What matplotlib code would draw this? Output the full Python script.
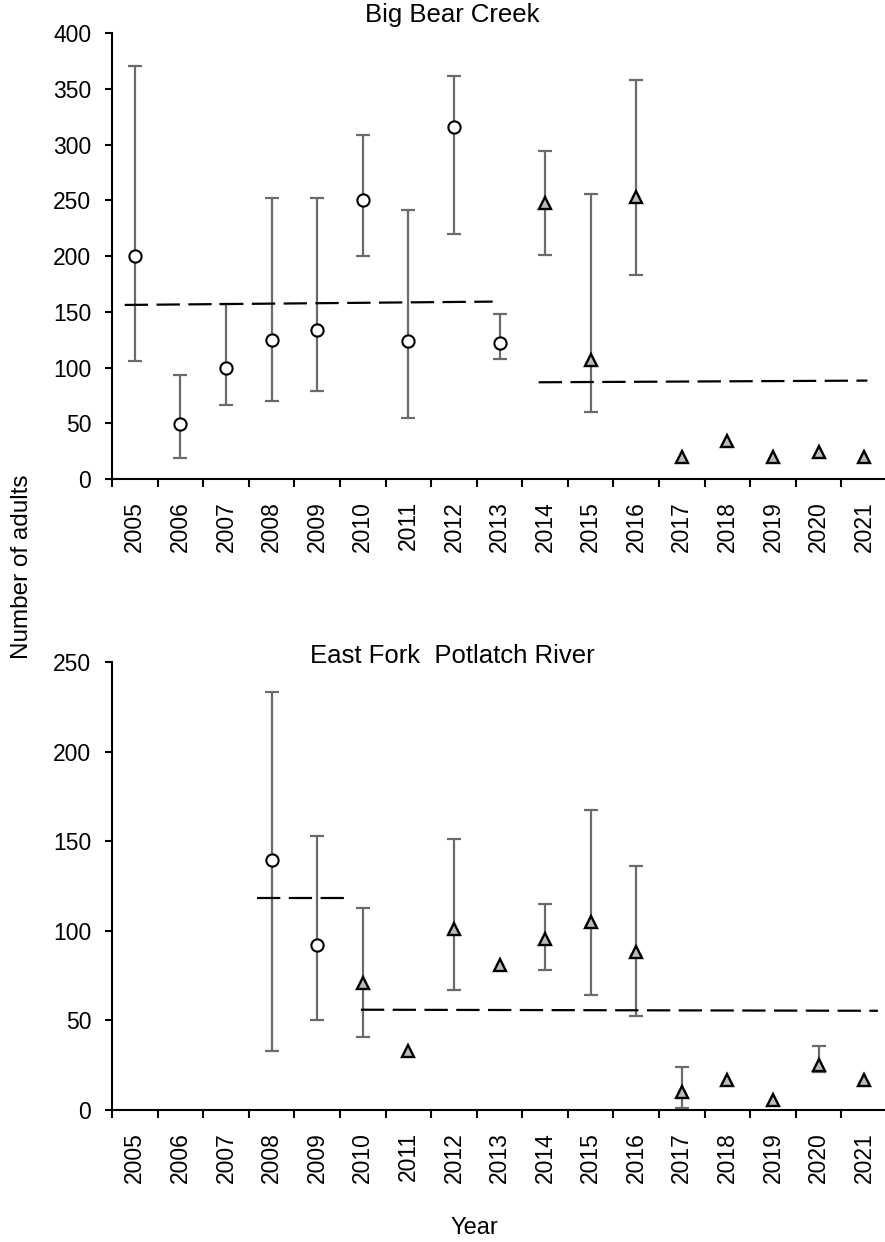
import numpy as np
import matplotlib
matplotlib.use("Agg")
import matplotlib.pyplot as plt

plt.rcParams['font.family'] = ['Liberation Sans', 'DejaVu Sans']

nan = np.nan
years = list(range(2005, 2022))
year_labels = [str(y) for y in years]

# Big Bear Creek
bb_mean = [200, 49, 100, 125, 134, 250, 124, 316, 122, 248, 107, 253, 20, 34, 20, 24, 20]
bb_upper = [371, 93, 157, 252, 252, 309, 241, 362, 148, 294, 256, 358, nan, nan, nan, nan, nan]
bb_lower = [106, 19, 66, 70, 79, 200, 55, 220, 108, 201, 60, 183, nan, nan, nan, nan, nan]
bb_split_year = 2014  # circles before, triangles from this year
bb_line1_x = [2004.78, 2012.85]
bb_line1_y = [156.2, 159.2]
bb_line2_x = [2013.86, 2021.07]
bb_line2_y = [86.8, 88.3]

# East Fork Potlatch River
ef_mean = [nan, nan, nan, 139.5, 92, 71, 33, 101, 81, 95.5, 105, 88.5, 10, 17, 5.6, 25, 17]
ef_upper = [nan, nan, nan, 233.5, 153, 113, nan, 151.5, nan, 115, 167.5, 136.5, 24, nan, nan, 35.5, nan]
ef_lower = [nan, nan, nan, 33, 50, 41, nan, 67, nan, 78, 64, 52.5, 1, nan, nan, 21, nan]
ef_split_year = 2010
ef_line1_x = [2007.68, 2009.67]
ef_line1_y = [118.5, 118.5]
ef_line2_x = [2009.96, 2021.3]
ef_line2_y = [56.0, 55.4]

FIG_W, FIG_H = 885, 1242
fig = plt.figure(figsize=(FIG_W / 100, FIG_H / 100), dpi=100)

def px_axes(left, right, top, bottom):
    return fig.add_axes([left / FIG_W, 1 - bottom / FIG_H,
                         (right - left) / FIG_W, (bottom - top) / FIG_H])

ax_top = px_axes(112, 887, 33.3, 479)
ax_bot = px_axes(112, 887, 662.3, 1110)

ERR_COLOR = '#6b6b6b'
TRI_FILL = '#bababa'

def draw_panel(ax, mean, upper, lower, split_year, l1x, l1y, l2x, l2y, ymax, title, title_y):
    x0 = years[0]
    xi = np.array(years) - x0
    m = np.array(mean, dtype=float)
    up = np.array(upper, dtype=float)
    lo = np.array(lower, dtype=float)
    has_err = ~np.isnan(up)
    ax.errorbar(xi[has_err], m[has_err],
                yerr=[m[has_err] - lo[has_err], up[has_err] - m[has_err]],
                fmt='none', ecolor=ERR_COLOR, elinewidth=1.6, capsize=4.7,
                capthick=1.6, zorder=2, clip_on=False)
    for lx, ly in ((l1x, l1y), (l2x, l2y)):
        ln, = ax.plot(np.array(lx) - x0, ly, color='black', lw=1.6, zorder=3)
        ln.set_dashes((10.5, 3.8))
    circ = (np.array(years) < split_year) & ~np.isnan(m)
    tri = (np.array(years) >= split_year) & ~np.isnan(m)
    ax.plot(xi[circ], m[circ], 'o', ms=8.8, mfc='white', mec='black', mew=1.5,
            zorder=4, clip_on=False)
    ax.plot(xi[tri], m[tri], '^', ms=9.2, mfc=TRI_FILL, mec='black', mew=1.7,
            zorder=4, clip_on=False)

    ax.set_xlim(-0.5, len(years) - 0.5)
    ax.set_ylim(0, ymax)
    ax.set_yticks(np.arange(0, ymax + 1, 50))
    ax.set_xticks(xi)
    ax.set_xticklabels(year_labels, rotation=90, fontsize=16.5)
    ax.set_xticks(np.arange(-0.5, len(years), 1.0), minor=True)
    ax.tick_params(axis='x', which='major', length=0, pad=16)
    ax.tick_params(axis='x', which='minor', length=6, width=1.5, direction='out')
    ax.tick_params(axis='y', which='major', length=5, width=1.5, direction='out',
                   labelsize=16.5, pad=10)
    for s in ('top', 'right'):
        ax.spines[s].set_visible(False)
    for s in ('left', 'bottom'):
        ax.spines[s].set_linewidth(1.5)
        ax.spines[s].set_color('black')
    ax.patch.set_alpha(0)
    fig.text(452 / FIG_W, 1 - title_y / FIG_H, title, ha='center', va='center',
             fontsize=18.5)

draw_panel(ax_top, bb_mean, bb_upper, bb_lower, bb_split_year,
           bb_line1_x, bb_line1_y, bb_line2_x, bb_line2_y, 400,
           'Big Bear Creek', 15)
draw_panel(ax_bot, ef_mean, ef_upper, ef_lower, ef_split_year,
           ef_line1_x, ef_line1_y, ef_line2_x, ef_line2_y, 250,
           'East Fork  Potlatch River', 656)

fig.text(22 / FIG_W, 1 - 567 / FIG_H, 'Number of adults', rotation=90,
         ha='center', va='center', fontsize=17.5)
fig.text(474 / FIG_W, 1 - 1228 / FIG_H, 'Year', ha='center', va='center',
         fontsize=17)

fig.savefig('out.png', dpi=100)
